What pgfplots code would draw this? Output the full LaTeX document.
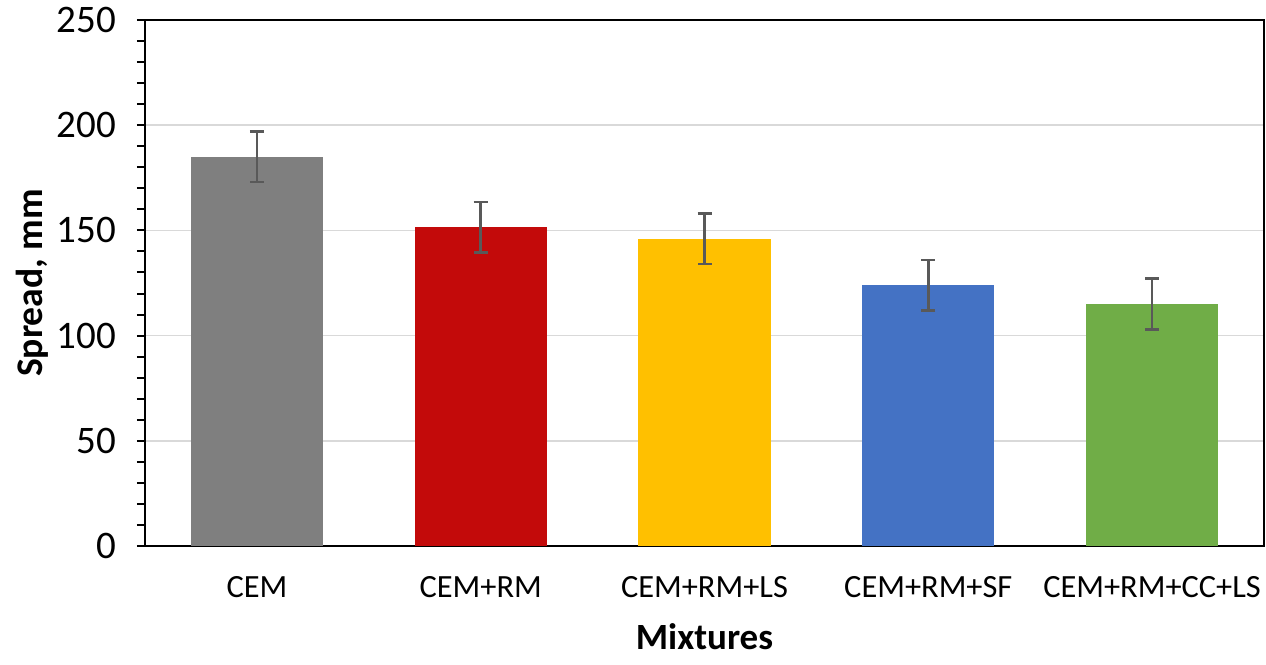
\documentclass[border=0pt]{standalone}
\usepackage{pgfplots}
\pgfplotsset{compat=1.18}
\usepackage{fontspec}
\setmainfont{Carlito}

\definecolor{barGray}{HTML}{7F7F7F}
\definecolor{barRed}{HTML}{C30A0A}
\definecolor{barYellow}{HTML}{FFC000}
\definecolor{barBlue}{HTML}{4472C4}
\definecolor{barGreen}{HTML}{70AD47}
\definecolor{errGray}{HTML}{595959}
\definecolor{gridGray}{HTML}{D9D9D9}

\begin{document}
\begin{tikzpicture}
	\begin{axis}[
		name=ax,
		scale only axis,
		width=559.5pt, height=263pt,
		xmin=-0.5, xmax=4.5,
		ymin=0, ymax=250,
		ytick={0,50,...,250},
		minor y tick num=4,
		ytick pos=left,
		tick align=outside,
		major tick length=4pt,
		minor tick length=4pt,
		tick style={black, line width=1pt},
		xtick={0,1,2,3,4},
		xticklabels={CEM, CEM+RM, CEM+RM+LS, CEM+RM+SF, CEM+RM+CC+LS},
		x tick style={draw=none},
		ymajorgrids,
		grid style={gridGray, line width=0.8pt},
		axis line style={black, line width=1.4pt},
		/pgf/number format/assume math mode=true,
		yticklabel style={font=\fontsize{19.5}{20}\selectfont, anchor=east, xshift=-7pt},
		xticklabel style={font=\fontsize{16.2}{17}\selectfont, anchor=base, yshift=-21.5pt},
		xlabel={\textbf{Mixtures}},
		ylabel={\textbf{Spread, mm}},
		xlabel style={font=\fontsize{18.5}{19}\selectfont, at={(axis description cs:0.5,-0.173)}, anchor=center},
		ylabel style={font=\fontsize{18.8}{19}\selectfont, at={(axis description cs:-0.1010,0.5)}, anchor=center, rotate=0},
		ybar, bar width=0.59, bar shift=0pt,
		error bars/y dir=both,
		error bars/y explicit,
		error bars/error bar style={errGray, line width=1.3pt},
		error bars/error mark options={rotate=90, mark size=3.5pt, errGray, line width=1.3pt},
		]
		\addplot[fill=barGray, draw=none] coordinates {(0,185) +- (0,12)};
		\addplot[fill=barRed, draw=none] coordinates {(1,151.5) +- (0,12)};
		\addplot[fill=barYellow, draw=none] coordinates {(2,146) +- (0,12)};
		\addplot[fill=barBlue, draw=none] coordinates {(3,124) +- (0,12)};
		\addplot[fill=barGreen, draw=none] coordinates {(4,115) +- (0,12)};
	\end{axis}
	\pgfresetboundingbox
	\path[use as bounding box] ([shift={(-72.5pt,-59pt)}]ax.south west) rectangle ([shift={(1pt,10pt)}]ax.north east);
\end{tikzpicture}
\end{document}
